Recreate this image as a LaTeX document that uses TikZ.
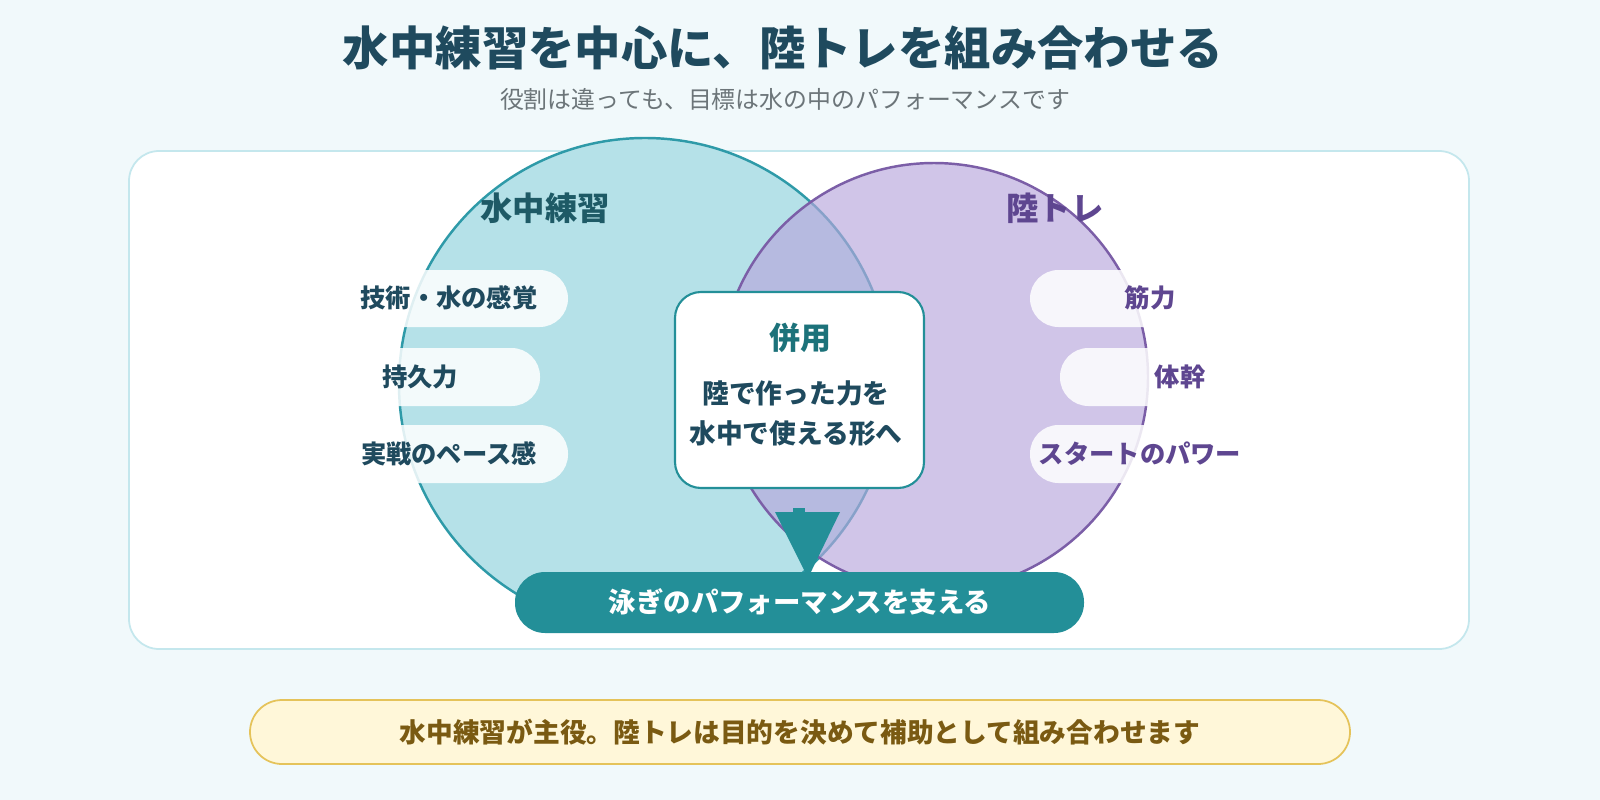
\documentclass[tikz,border=0pt]{standalone}
\usepackage{fontspec}
\setmainfont{Noto Sans CJK JP}
\begin{document}
\begin{tikzpicture}[x=0.05cm,y=-0.05cm,
  pill/.style={fill=white,fill opacity=0.85,text opacity=1,rounded corners=28.5*0.05cm,inner sep=0},
  ptxt/.style={font=\fontsize{36}{40}\selectfont\bfseries},
]
\definecolor{bg}{HTML}{F1F9FB}
\definecolor{tealfill}{HTML}{B5E1E8}
\definecolor{tealline}{HTML}{2E9AA8}
\definecolor{teal2}{HTML}{238F98}
\definecolor{dark}{HTML}{1F4A5E}
\definecolor{purpfill}{HTML}{B7A6DC}
\definecolor{purpline}{HTML}{7B5EA7}
\definecolor{purptxt}{HTML}{5E4690}
\definecolor{tealtxt}{HTML}{1E5A66}
\definecolor{yline}{HTML}{E5C35A}
\definecolor{yfill}{HTML}{FFF7D9}
\definecolor{ytxt}{HTML}{7A5A12}
\fill[bg] (0,0) rectangle (1600,800);
\useasboundingbox (0,0) rectangle (1600,800);
\node (title) at (783,48) {\fontsize{66}{72}\selectfont\bfseries\color{dark}水中練習を中心に、陸トレを組み合わせる};
\node (sub) at (785,99) {\fontsize{34}{40}\selectfont\color{gray!80!dark}役割は違っても、目標は水の中のパフォーマンスです};
\draw[draw=tealfill!80!white,line width=2.5pt,fill=white,rounded corners=1.5cm] (129,151) rectangle (1469,649);
\node[circle,minimum size=492*0.05cm,fill=tealfill,draw=tealline,line width=3.5pt] (L) at (645,384) {};
\fill[purpfill,opacity=0.65] (934,377) circle (214);
\draw[purpline,line width=3.5pt] (934,377) circle (214);
\node (lt) at (545,208) {\fontsize{46}{50}\selectfont\bfseries\color{tealtxt}水中練習};
\node (rt) at (1055,208) {\fontsize{46}{50}\selectfont\bfseries\color{purptxt}陸トレ};
% left pills
\fill[pill] (330,270) rectangle (568,327);
\fill[pill] (360,348) rectangle (540,406);
\fill[pill] (330,425) rectangle (568,483);
\node[ptxt,text=dark] (p1) at (449,298) {技術・水の感覚};
\node[ptxt,text=dark] (p2) at (420,377) {持久力};
\node[ptxt,text=dark] (p3) at (449,454) {実戦のペース感};
% right pills
\fill[pill] (1030,270) rectangle (1268,327);
\fill[pill] (1060,348) rectangle (1240,406);
\fill[pill] (1030,425) rectangle (1268,483);
\node[ptxt,text=purptxt] (q1) at (1150,298) {筋力};
\node[ptxt,text=purptxt] (q2) at (1180,377) {体幹};
\node[ptxt,text=purptxt] (q3) at (1140,454) {スタートのパワー};
% arrow funnel
\fill[teal2] (775,512) -- (840,512) -- (808,578) -- cycle;
\fill[teal2] (793,508) rectangle (805,520);
% center box
\draw[teal2,line width=3pt,fill=white,rounded corners=1.3cm] (675,292) rectangle (924,488);
\node (c1) at (800,338) {\fontsize{44}{48}\selectfont\bfseries\color{teal2!80!black}併用};
\node (c2) at (796,393) {\fontsize{38}{42}\selectfont\bfseries\color{dark}陸で作った力を};
\node (c3) at (796,433) {\fontsize{38}{42}\selectfont\bfseries\color{dark}水中で使える形へ};
% bottom pill
\fill[teal2,rounded corners=1.5cm] (515,572) rectangle (1084,633);
\node (b) at (800,602) {\fontsize{39}{44}\selectfont\bfseries\color{white}泳ぎのパフォーマンスを支える};
% yellow
\draw[draw=yline,line width=2.5pt,fill=yfill,rounded corners=1.6cm] (250,700) rectangle (1350,764);
\node (y) at (800,732) {\fontsize{38}{44}\selectfont\bfseries\color{ytxt}水中練習が主役。陸トレは目的を決めて補助として組み合わせます};
\end{tikzpicture}
\end{document}
